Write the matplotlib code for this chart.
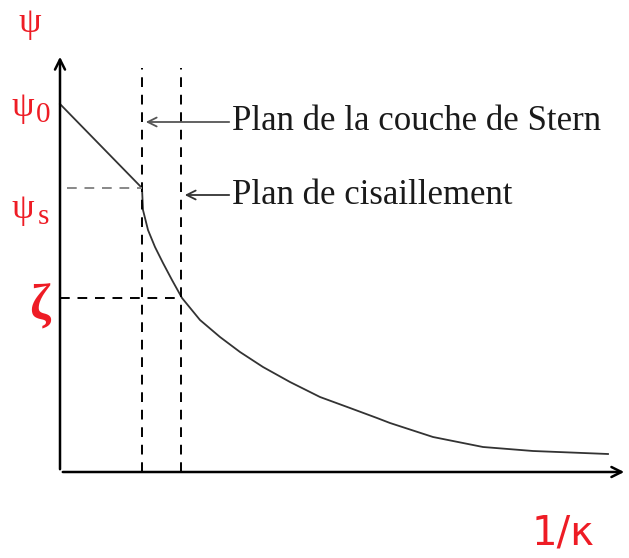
import numpy as np
import matplotlib.pyplot as plt

# potential profile (distance from surface, psi), arbitrary units
dist = [0, 82, 83, 88, 95, 103, 112, 122, 140, 160, 180, 203, 230, 260, 290, 317,
        330, 373, 423, 473, 523, 548]
psi = [368, 284, 262, 242, 225, 209, 192, 174, 152, 135, 120, 105, 90, 75, 64, 54,
       49, 35, 25, 21, 19, 18]

stern_x = 82      # plan de la couche de Stern
shear_x = 121     # plan de cisaillement
psi_s = 284
zeta = 174

fig = plt.figure(figsize=(6.29, 5.58), dpi=100)
ax = fig.add_axes([0, 0, 1, 1])
ax.set_xlim(-60, 569)
ax.set_ylim(-86, 472)
ax.axis('off')

# axes with arrows
ax.annotate('', xy=(0, 418), xytext=(0, 0),
            arrowprops=dict(arrowstyle='->', lw=1.8, color='black', mutation_scale=18))
ax.annotate('', xy=(567, 0), xytext=(0, 0),
            arrowprops=dict(arrowstyle='->', lw=1.8, color='black', mutation_scale=18))

# curve
ax.plot(dist, psi, color='#333333', lw=1.3)

# dashed guides
ax.plot([stern_x, stern_x], [0, 404], 'k--', lw=1.4, dashes=(5, 4))
ax.plot([shear_x, shear_x], [0, 404], 'k--', lw=1.4, dashes=(5, 4))
ax.plot([7, stern_x], [psi_s, psi_s], '--', color='#888888', lw=1.4, dashes=(5, 4))
ax.plot([0, shear_x], [zeta, zeta], 'k--', lw=1.4, dashes=(5, 4))

# annotations
ax.annotate('', xy=(stern_x + 1, 350), xytext=(172, 350),
            arrowprops=dict(arrowstyle='->', lw=1.3, color='#555555', mutation_scale=16))
ax.text(172, 350, 'Plan de la couche de Stern', family='Liberation Serif',
        fontsize=25, va='center', ha='left', color='#1a1a1a')
ax.annotate('', xy=(shear_x + 1, 277), xytext=(172, 277),
            arrowprops=dict(arrowstyle='->', lw=1.3, color='#333333', mutation_scale=16))
ax.text(172, 277, 'Plan de cisaillement', family='Liberation Serif',
        fontsize=25, va='center', ha='left', color='#1a1a1a')

# red labels
red = '#ee1c25'
ax.text(-30, 448, 'ψ', family='Liberation Serif', fontsize=26, color=red, ha='center', va='center')
ax.text(-37, 364, 'ψ', family='Liberation Serif', fontsize=26, color=red, ha='center', va='center')
ax.text(-17, 357, '0', family='Liberation Serif', fontsize=21, color=red, ha='center', va='center')
ax.text(-37, 262, 'ψ', family='Liberation Serif', fontsize=26, color=red, ha='center', va='center')
ax.text(-17, 255, 's', family='Liberation Serif', fontsize=21, color=red, ha='center', va='center')
ax.text(-21, 165, 'ζ', family='Liberation Serif', fontsize=36, fontweight='bold', color=red,
        ha='center', va='center')
ax.text(503, -72, '1/κ', family='DejaVu Sans', fontsize=29, color=red, ha='center', va='baseline')

fig.savefig('out.png', dpi=100)
